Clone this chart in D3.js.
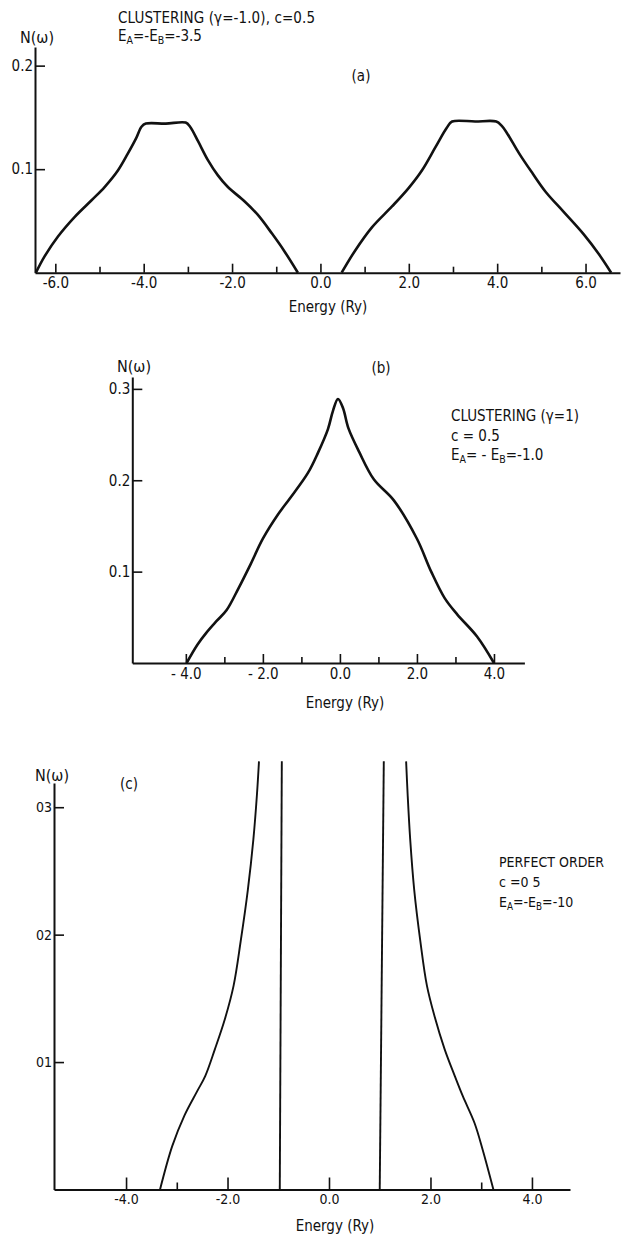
<!DOCTYPE html>
<html>
<head>
<meta charset="utf-8">
<script src="https://cdn.jsdelivr.net/npm/d3@7"></script>
<style>
  body { margin: 0; background: #fff; }
  text { font-family: "Liberation Sans Narrow", "DejaVu Sans Condensed", sans-serif; fill: #111; }
</style>
</head>
<body>
<div id="chart"></div>
<script>
// ---- data (energy in Ry, N(w)) ----
var aLeft = [[-6.44,0],[-6.24,0.016],[-5.94,0.035],[-5.56,0.054],[-5.18,0.070],[-4.88,0.083],
             [-4.58,0.099],[-4.36,0.115],[-4.17,0.130],[-4.05,0.141],[-3.95,0.144],[-3.5,0.144],
             [-3.05,0.145],[-2.95,0.141],[-2.77,0.127],[-2.55,0.109],[-2.32,0.094],[-2.1,0.083],
             [-1.72,0.069],[-1.42,0.056],[-1.1,0.038],[-0.82,0.021],[-0.51,0]];
var aRight = [[0.48,0],[0.78,0.021],[1.17,0.044],[1.62,0.064],[2.0,0.082],[2.3,0.099],
              [2.6,0.121],[2.86,0.140],[2.98,0.146],[3.5,0.146],[3.98,0.146],[4.1,0.142],
              [4.22,0.135],[4.5,0.115],[4.8,0.096],[5.1,0.078],[5.5,0.059],[5.96,0.037],
              [6.3,0.018],[6.58,0]];
var bCurve = [[-3.98,0],[-3.7,0.02],[-3.47,0.033],[-3.2,0.046],[-2.94,0.058],[-2.63,0.082],
              [-2.32,0.108],[-2.0,0.136],[-1.6,0.163],[-1.3,0.18],[-0.83,0.208],[-0.57,0.23],
              [-0.31,0.256],[-0.18,0.276],[-0.05,0.289],[0.08,0.279],[0.22,0.257],[0.5,0.231],
              [0.88,0.201],[1.4,0.178],[2.0,0.136],[2.37,0.1],[2.72,0.071],[3.05,0.053],
              [3.56,0.029],[4.0,0]];
var cOuterLeft = [[-3.33,0],[-3.09,0.034],[-2.85,0.058],[-2.6,0.077],[-2.44,0.089],[-2.25,0.11],
                  [-2.05,0.134],[-1.88,0.16],[-1.74,0.195],[-1.6,0.235],[-1.49,0.275],
                  [-1.42,0.31],[-1.38,0.336]];
var cInnerLeft = [[-0.97,0],[-0.93,0.336]];
var cInnerRight = [[1.0,0],[1.08,0.336]];
var cOuterRight = [[3.24,0],[3.03,0.031],[2.87,0.052],[2.64,0.073],[2.48,0.089],[2.28,0.11],
                   [2.08,0.136],[1.93,0.16],[1.8,0.195],[1.68,0.235],[1.6,0.275],
                   [1.55,0.31],[1.52,0.336]];

var aMajor = [-6,-4,-2,0,2,4,6], aMinor = [-5,-3,-1,1,3,5];
var aXLabels = ["-6.0","-4.0","-2.0","0.0","2.0","4.0","6.0"];
var aYTicks = [0.1,0.2], aYLabels = ["0.1","0.2"];
var bMajor = [-4,-2,0,2,4], bMinor = [-3,-1,1,3];
var bXLabels = ["- 4.0","- 2.0","0.0","2.0","4.0"];
var bYTicks = [0.1,0.2,0.3], bYLabels = ["0.1","0.2","0.3"];
var cMajor = [-4,-2,0,2,4], cMinor = [-3,3];
var cXLabels = ["-4.0","-2.0","0.0","2.0","4.0"];
var cYTicks = [0.1,0.2,0.3], cYLabels = ["01","02","03"];

var svg = d3.select('#chart').append('svg')
    .attr('width', 623).attr('height', 1234);

function panel(o){
    var x = d3.scaleLinear().domain(o.xDom).range(o.xRange);
    var y = d3.scaleLinear().domain(o.yDom).range(o.yRange);
    var g = svg.append('g');

    // minor ticks on energy axis
    g.append('g').attr('transform', 'translate(0,' + o.yRange[0] + ')')
        .call(d3.axisBottom(x).tickValues(o.minor).tickSizeInner(-o.minorLen).tickSizeOuter(0).tickFormat(''))
        .call(function(s){ s.select('.domain').remove(); });
    // major ticks + domain
    var xa = g.append('g').attr('transform', 'translate(0,' + o.yRange[0] + ')')
        .call(d3.axisBottom(x).tickValues(o.major).tickSizeInner(-o.majorLen).tickSizeOuter(0)
            .tickPadding(o.xPad).tickFormat(function(d, i){ return o.xLabels[i]; }));
    xa.selectAll('text').attr('font-size', o.fs).attr('font-family', null);

    var ya = g.append('g').attr('transform', 'translate(' + o.xRange[0] + ',0)')
        .call(d3.axisLeft(y).tickValues(o.yTicks).tickSizeInner(-10).tickSizeOuter(0)
            .tickPadding(2).tickFormat(function(d, i){ return o.yLabels[i]; }));
    ya.selectAll('text').attr('font-size', o.fs).attr('font-family', null);

    g.selectAll('.domain').attr('stroke', '#111').attr('stroke-width', 2);
    g.selectAll('.tick line').attr('stroke', '#111').attr('stroke-width', 1.6);

    var line = d3.line().x(function(d){ return x(d[0]); }).y(function(d){ return y(d[1]); });
    o.curves.forEach(function(c){
        g.append('path').datum(c.data)
            .attr('d', line.curve(c.straight ? d3.curveLinear : d3.curveCatmullRom.alpha(0.5)))
            .attr('fill', 'none').attr('stroke', '#111')
            .attr('stroke-width', o.lw).attr('stroke-linejoin', 'round');
    });

    g.append('text').text('N(\u03c9)').attr('x', o.nx).attr('y', o.ny)
        .attr('font-size', 16).attr('text-anchor', 'middle');
    g.append('text').text('Energy (Ry)').attr('x', o.ex).attr('y', o.ey)
        .attr('font-size', 15).attr('text-anchor', 'middle');
    g.append('text').text(o.tag).attr('x', o.tx).attr('y', o.ty)
        .attr('font-size', 15).attr('text-anchor', 'middle');
    return g;
}

// E_A = - E_B = value, with subscripts
function eLine(x, y, sep1, sep2, val, fs){
    var t = svg.append('text').attr('x', x).attr('y', y).attr('font-size', fs);
    t.append('tspan').text('E');
    t.append('tspan').text('A').attr('dy', 3).attr('font-size', fs * 0.7);
    t.append('tspan').text(sep1 + 'E').attr('dy', -3);
    t.append('tspan').text('B').attr('dy', 3).attr('font-size', fs * 0.7);
    t.append('tspan').text(sep2 + val).attr('dy', -3);
}

// (a)
panel({
    xDom: [-6.46, 6.78], xRange: [35, 620],
    yDom: [0, 0.218], yRange: [272.7, 47],
    major: aMajor, minor: aMinor, xLabels: aXLabels, majorLen: 9, minorLen: 6, xPad: 5,
    yTicks: aYTicks, yLabels: aYLabels, fs: 15, lw: 2.6,
    curves: [{data: aLeft}, {data: aRight}],
    nx: 37, ny: 43, ex: 328, ey: 312, tag: '(a)', tx: 361, ty: 81
});
svg.append('text').text('CLUSTERING (\u03b3=-1.0), c=0.5').attr('x', 118).attr('y', 23)
    .attr('font-size', 15).attr('textLength', 197).attr('lengthAdjust', 'spacing');
eLine(118, 41, '=-', '=-', '3.5', 15);

// (b)
panel({
    xDom: [-5.39, 4.79], xRange: [132.3, 524.4],
    yDom: [0, 0.313], yRange: [663, 377],
    major: bMajor, minor: bMinor, xLabels: bXLabels, majorLen: 9, minorLen: 6, xPad: 5,
    yTicks: bYTicks, yLabels: bYLabels, fs: 15, lw: 2.6,
    curves: [{data: bCurve}],
    nx: 134, ny: 372, ex: 345, ey: 708, tag: '(b)', tx: 381, ty: 373
});
svg.append('text').text('CLUSTERING (\u03b3=1)').attr('x', 451).attr('y', 421).attr('font-size', 15);
svg.append('text').text('c = 0.5').attr('x', 451).attr('y', 441).attr('font-size', 15);
eLine(451, 460, '= - ', '=-', '1.0', 15);

// (c)
panel({
    xDom: [-5.42, 4.75], xRange: [54, 570],
    yDom: [0, 0.319], yRange: [1189.5, 783],
    major: cMajor, minor: cMinor, xLabels: cXLabels, majorLen: 12, minorLen: 7, xPad: 5,
    yTicks: cYTicks, yLabels: cYLabels, fs: 14, lw: 1.9,
    curves: [{data: cOuterLeft}, {data: cInnerLeft, straight: true},
             {data: cInnerRight, straight: true}, {data: cOuterRight}],
    nx: 52, ny: 781, ex: 335, ey: 1231, tag: '(c)', tx: 129, ty: 789
});
svg.append('text').text('PERFECT ORDER').attr('x', 499).attr('y', 867).attr('font-size', 14);
svg.append('text').text('c =0 5').attr('x', 499).attr('y', 887).attr('font-size', 14);
eLine(499, 907, '=-', '=-', '10', 14);
</script>
</body>
</html>
